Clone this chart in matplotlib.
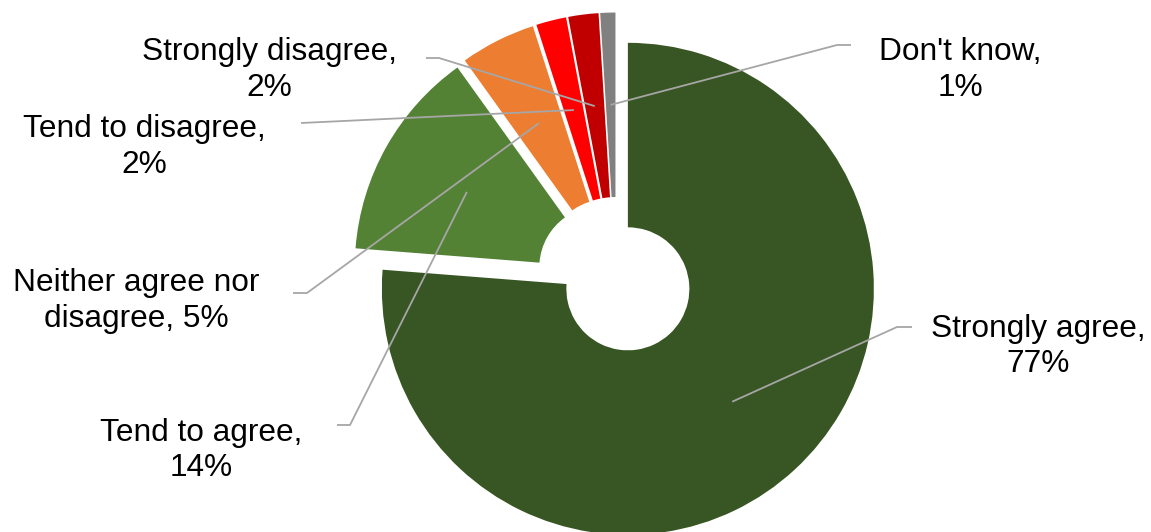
import matplotlib
matplotlib.use("Agg")
import matplotlib.pyplot as plt
import numpy as np

# ---- data ----
categories = ["Strongly agree", "Tend to agree", "Neither agree nor disagree",
              "Tend to disagree", "Strongly disagree", "Don't know"]
values = [77, 14, 5, 2, 2, 1]
label_lines = [["Strongly agree,", "77%"],
               ["Tend to agree,", "14%"],
               ["Neither agree nor", "disagree, 5%"],
               ["Tend to disagree,", "2%"],
               ["Strongly disagree,", "2%"],
               ["Don't know,", "1%"]]
colors = ["#375623", "#548235", "#ED7D31", "#FF0000", "#C00000", "#808080"]

# ---- layout (pixels in a 1151x532 canvas) ----
W, H = 1151, 532
CX, CY, RPX = 616.0, 276.0, 246.0
text_pos = [(1038, 337), (201, 441), (136, 291), (144, 137), (269, 60), (960, 60)]  # center x, first baseline y
line_gap = 35.5
leader_start = [(912, 327), (337, 425), (293, 293), (301, 123), (426, 58), (851, 45)]
leader_knee = [(897, 327), (350, 425), (307, 293), (None), (439, 58), (837, 45)]

def d(px, py):
    return (px - CX) / RPX, (CY - py) / RPX

plt.rcParams['font.family'] = ['Liberation Sans', 'DejaVu Sans']
fig = plt.figure(figsize=(W / 100, H / 100), dpi=100)
ax = fig.add_axes([0, 0, 1, 1])

wedges, _ = ax.pie(values, colors=colors, startangle=90, counterclock=False,
                   explode=[0.071] * len(values), radius=1.0,
                   wedgeprops=dict(width=0.75, linewidth=0))

ax.set_aspect('auto')
ax.set_xlim(-CX / RPX, (W - CX) / RPX)
ax.set_ylim((CY - H) / RPX, CY / RPX)
ax.axis('off')

lc = "#A6A6A6"
for i, w in enumerate(wedges):
    th = np.deg2rad((w.theta1 + w.theta2) / 2)
    rm = w.r - w.width / 2
    ex = w.center[0] + rm * np.cos(th)
    ey = w.center[1] + rm * np.sin(th)
    pts = [d(*leader_start[i])]
    if leader_knee[i] is not None:
        pts.append(d(*leader_knee[i]))
    pts.append((ex, ey))
    xs, ys = zip(*pts)
    ax.plot(xs, ys, color=lc, lw=1.3, solid_capstyle='butt', zorder=3)

    tx, ty = text_pos[i]
    for k, line in enumerate(label_lines[i]):
        x, y = d(tx, ty + k * line_gap)
        ax.text(x, y, line, ha='center', va='baseline', fontsize=22.8, color='black')

fig.savefig("out.png", dpi=100)
